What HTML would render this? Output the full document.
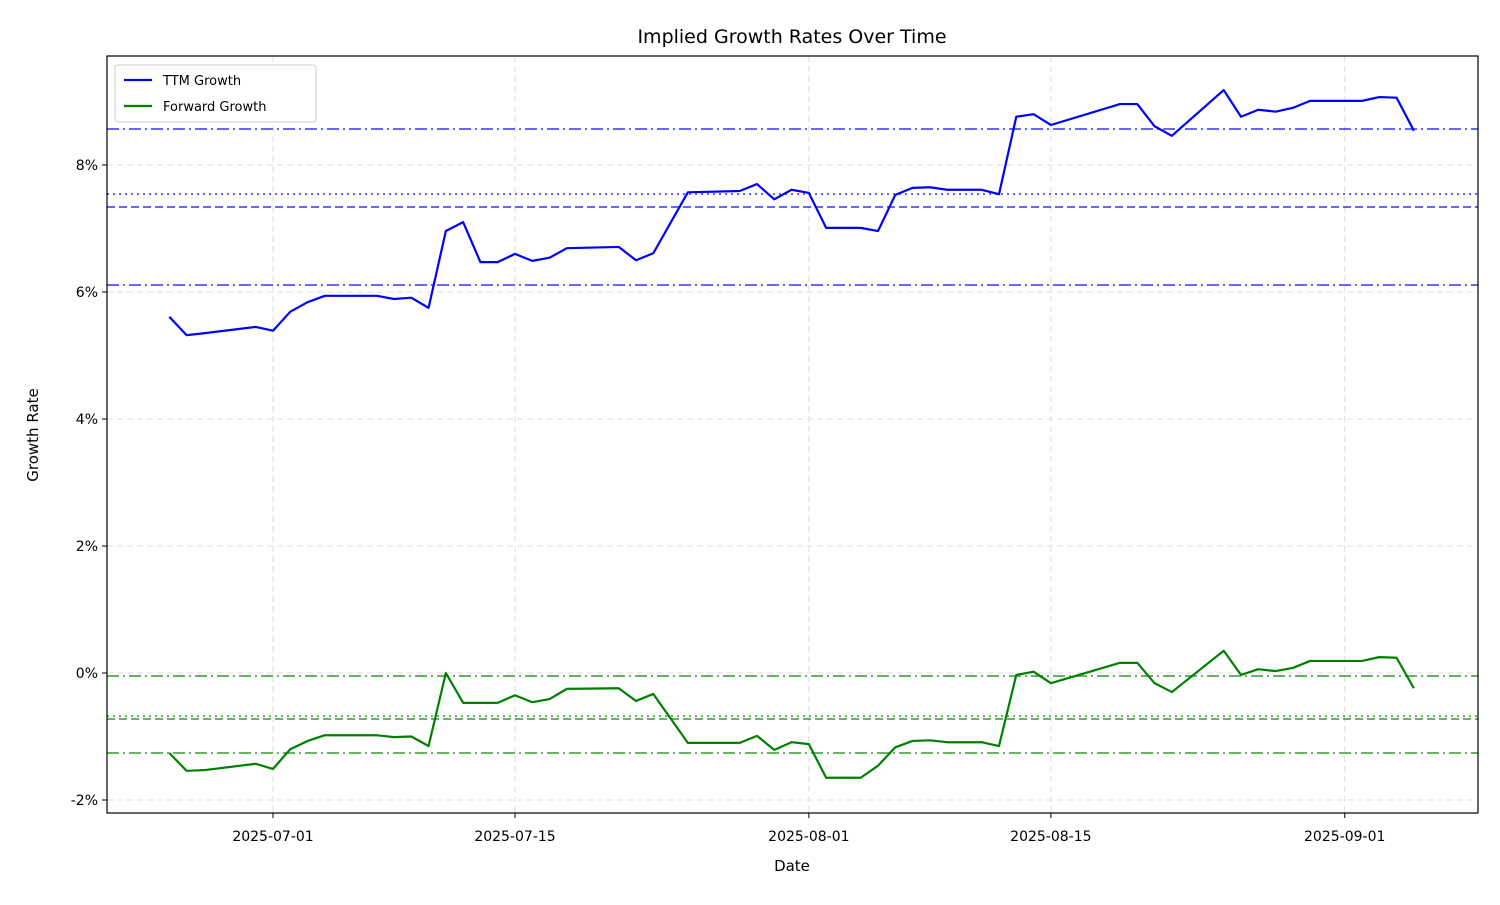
<!DOCTYPE html>
<html><head><meta charset="utf-8"><style>
body{margin:0;background:#fff;font-family:"Liberation Sans","DejaVu Sans",sans-serif}
svg text{font-family:"DejaVu Sans","Liberation Sans",sans-serif}
</style></head><body>
<svg id="c" width="1500" height="900" xmlns="http://www.w3.org/2000/svg"></svg>
<script>
const dates=["06-25","06-26","06-27","06-30","07-01","07-02","07-03","07-04","07-07","07-08","07-09","07-10","07-11","07-12","07-13","07-14","07-15","07-16","07-17","07-18","07-21","07-22","07-23","07-25","07-28","07-29","07-30","07-31","08-01","08-02","08-04","08-05","08-06","08-07","08-08","08-09","08-11","08-12","08-13","08-14","08-15","08-19","08-20","08-21","08-22","08-25","08-26","08-27","08-28","08-29","08-30","09-02","09-03","09-04","09-05"];
const ttm=[5.61,5.32,5.35,5.45,5.39,5.69,5.84,5.94,5.94,5.89,5.91,5.75,6.96,7.10,6.47,6.47,6.60,6.49,6.54,6.69,6.71,6.50,6.61,7.57,7.59,7.70,7.46,7.61,7.56,7.01,7.01,6.96,7.53,7.64,7.65,7.61,7.61,7.54,8.76,8.80,8.63,8.96,8.96,8.61,8.46,9.18,8.76,8.87,8.84,8.90,9.01,9.01,9.07,9.06,8.54];
const fwd=[-1.26,-1.54,-1.53,-1.43,-1.51,-1.20,-1.07,-0.98,-0.98,-1.01,-1.00,-1.15,0.00,-0.47,-0.47,-0.47,-0.35,-0.46,-0.41,-0.25,-0.24,-0.44,-0.33,-1.10,-1.10,-0.99,-1.21,-1.09,-1.12,-1.65,-1.65,-1.46,-1.17,-1.07,-1.06,-1.09,-1.09,-1.15,-0.03,0.02,-0.16,0.16,0.16,-0.16,-0.30,0.35,-0.03,0.06,0.03,0.08,0.19,0.19,0.25,0.24,-0.24];
const ttmLines=[8.567,7.543,7.339,6.110];
const fwdLines=[-0.047,-0.677,-0.724,-1.260];
const lineStyles=["12,4,2,4","2,4","8,4","12,4,2,4"];
const yTicks=[-2,0,2,4,6,8];
const xTicks=["07-01","07-15","08-01","08-15","09-01"];
const NS="http://www.w3.org/2000/svg",svg=document.getElementById('c');
const L=107,R=1478,T=56,B=813;
function day(s){const [m,d]=s.split('-').map(Number);const base={6:-30,7:0,8:31,9:62}[m];return base+d-1;}
const X=s=>273+day(s)*(515-273)/14;
const Y=v=>673-v*63.5;
function el(t,a,p){const e=document.createElementNS(NS,t);for(const k in a)e.setAttribute(k,a[k]);(p||svg).appendChild(e);return e;}
let e;
e=el('rect',{x:0,y:0,width:1500,height:900,fill:'#fff'});


// grid
yTicks.forEach(v=>{e=el('line',{x1:L,x2:R,y1:Y(v),y2:Y(v),stroke:'#ddd','stroke-dasharray':'6,4','stroke-width':1});


e=el('line',{x1:L-5,x2:L,y1:Y(v),y2:Y(v),stroke:'#000'});


e=el('text',{x:L-9,y:Y(v)+5,'text-anchor':'end','font-size':14});e.textContent=v+'%';

});
xTicks.forEach(s=>{const x=X(s);e=el('line',{x1:x,x2:x,y1:T,y2:B,stroke:'#ddd','stroke-dasharray':'6,4'});


e=el('line',{x1:x,x2:x,y1:B,y2:B+5,stroke:'#000'});


e=el('text',{x:x,y:B+28,'text-anchor':'middle','font-size':14});e.textContent='2025-'+s;

});
ttmLines.forEach((v,i)=>{e=el('line',{x1:L,x2:R,y1:Y(v),y2:Y(v),stroke:'#0000ff','stroke-opacity':0.6,'stroke-width':2,'stroke-dasharray':lineStyles[i]});

});
fwdLines.forEach((v,i)=>{e=el('line',{x1:L,x2:R,y1:Y(v),y2:Y(v),stroke:'#008000','stroke-opacity':0.6,'stroke-width':2,'stroke-dasharray':lineStyles[i]});

});
function series(vals,color,name){e=el('polyline',{points:dates.map((d,i)=>X(d)+','+Y(vals[i])).join(' '),fill:'none',stroke:color,'stroke-width':2.2,'stroke-linejoin':'round'});

}
series(ttm,'#0000ff','ttm-growth-line');
series(fwd,'#008000','forward-growth-line');
e=el('rect',{x:L,y:T,width:R-L,height:B-T,fill:'none',stroke:'#000','stroke-width':1.2});


e=el('text',{x:792,y:43,'text-anchor':'middle','font-size':19});e.textContent='Implied Growth Rates Over Time';


e=el('text',{x:792,y:871,'text-anchor':'middle','font-size':15});e.textContent='Date';


e=el('text',{x:38,y:435,'text-anchor':'middle','font-size':15,transform:'rotate(-90 38 435)'});e.textContent='Growth Rate';


e=el('rect',{x:115,y:65,width:201,height:57,rx:3,fill:'#fff',stroke:'#ccc'});


[['TTM Growth','#0000ff',80],['Forward Growth','#008000',106]].forEach(([t,c,y])=>{
e=el('line',{x1:124,x2:152,y1:y,y2:y,stroke:c,'stroke-width':2.2});


e=el('text',{x:163,y:y+5,'font-size':13});e.textContent=t;

});
</script>
</body></html>
